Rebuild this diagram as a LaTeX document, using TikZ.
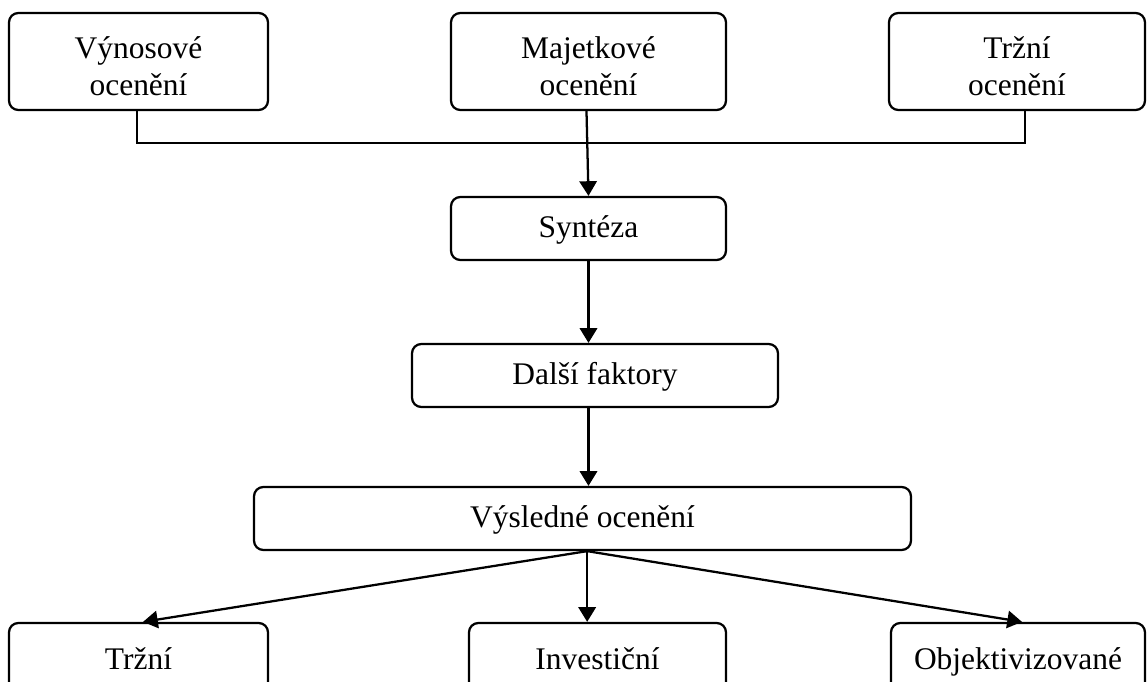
\documentclass[tikz,border=0pt]{standalone}
\usepackage{fontspec}
\setmainfont{Liberation Serif}
\usetikzlibrary{arrows.meta}

\tikzset{
  stage/.style={draw, line width=1.7pt, rounded corners=7pt, inner sep=0pt, align=center,
                font=\fontsize{23.6}{27.5}\selectfont, text height=17pt, text depth=3.5pt},
  twoline/.style={text height=51pt, text depth=0pt},
  flow/.style={line width=1.7pt, -{Triangle[length=11pt,width=13pt]}},
}

\begin{document}
\begin{tikzpicture}[x=0.75pt,y=-0.75pt]
            \def\px{0.75pt}
            \def\rowH{63}
            \useasboundingbox (0,0) rectangle (1147,682);

            % druhy oceneni
            \foreach \name/\x/\w/\txt in {vynos/138.5/259/Výnosové\\ocenění,majetek/588.5/275/Majetkové\\ocenění,trzniOc/1017/256/Tržní\\ocenění} {
                        \node[stage, twoline, minimum width=\w*\px, minimum height=97*\px] (\name) at (\x,61.5) {\txt};
                  }

            \node[stage, minimum width=275*\px, minimum height=\rowH*\px] (synteza) at (588.5,228.5) {Syntéza};
            \node[stage, minimum width=366*\px, minimum height=\rowH*\px] (faktory) at (595,375.5) {Další faktory};
            \node[stage, minimum width=657*\px, minimum height=\rowH*\px] (vysledne) at (582.5,518.5) {Výsledné ocenění};

            % druhy hodnoty
            \foreach \name/\x/\w/\txt in {trzni/138.5/259/Tržní,invest/597.5/257/Investiční,objekt/1018/254/Objektivizované} {
                        \node[stage, minimum width=\w*\px, minimum height=74*\px] (\name) at (\x,660) {\txt};
                  }

            \coordinate (bus) at (588.5,143);
            \draw[line width=1.7pt] ([xshift=-1pt]vynos.south) |- (bus) -| ([xshift=6pt]trzniOc.south);
            \draw[flow] ([xshift=-1.5pt]majetek.south) -- (synteza.north);
            \draw[flow] (synteza.south) -- (synteza.south |- faktory.north);
            \draw[flow] (synteza.south |- faktory.south) -- (synteza.south |- vysledne.north);

            \coordinate (fork) at ([xshift=-1pt]vysledne.south -| synteza.south);
            \draw[flow] (fork) -- ([xshift=3.4pt]trzni.north);
            \draw[flow] (fork) -- (fork |- invest.north);
            \draw[flow] (fork) -- ([xshift=3pt]objekt.north);
      \end{tikzpicture}
\end{document}
